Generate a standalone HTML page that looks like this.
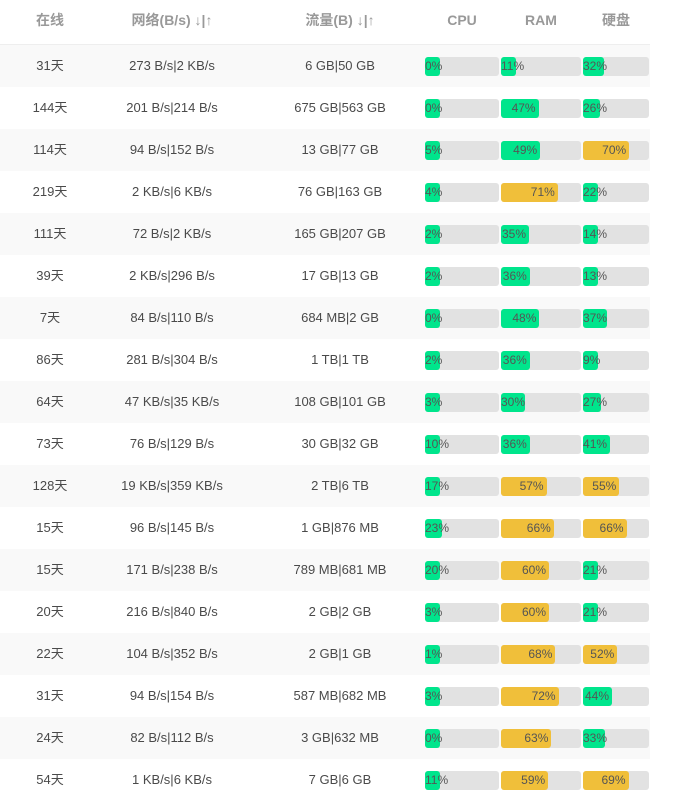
<!DOCTYPE html>
<html><head><meta charset="utf-8"><style>
*{margin:0;padding:0;box-sizing:border-box}
body{width:693px;height:792px;overflow:hidden;background:#fff;font-family:"Liberation Sans","Noto Sans CJK SC",sans-serif;font-size:13px;color:#4a4a4a}
.t{position:absolute;left:0;top:0;width:650px}
.h,.r{position:relative;height:42px}
.h{height:45px;border-bottom:1px solid #eee;color:#999;font-weight:bold;font-size:14px}
.c{position:absolute;top:0;line-height:42px;text-align:center;white-space:nowrap}
.h .c{line-height:40px}
.c1{left:0;width:100px}.c2{left:100px;width:144px}.c3{left:260px;width:160px}
.hc{left:425px;width:74px}.hr{left:501px;width:80px}.hd{left:583px;width:66px}
.b{position:absolute;top:12px;height:19px;background:#e2e2e2;border-radius:3px}
.f{height:19px;border-radius:3px;background:#00e58c;text-align:right;line-height:19px;white-space:nowrap;padding-right:3px;min-width:15px;font-size:12px;color:#555}
.y{background:#f0bf3a}
.bc{left:425px;width:74px}.br{left:501px;width:80px}.bd{left:583px;width:66px}
.rows .r:nth-child(odd){background:#f9f9f9}
</style></head><body><div class="t">
<div class="h"><div class="c c1">在线</div><div class="c c2">网络(B/s) ↓|↑</div><div class="c c3">流量(B) ↓|↑</div><div class="c hc">CPU</div><div class="c hr">RAM</div><div class="c hd">硬盘</div></div>
<div class="rows">
<div class="r"><div class="c c1">31天</div><div class="c c2">273 B/s|2 KB/s</div><div class="c c3">6 GB|50 GB</div><div class="b bc"><div class="f" style="width:0%">0%</div></div><div class="b br"><div class="f" style="width:11%">11%</div></div><div class="b bd"><div class="f" style="width:32%">32%</div></div></div>
<div class="r"><div class="c c1">144天</div><div class="c c2">201 B/s|214 B/s</div><div class="c c3">675 GB|563 GB</div><div class="b bc"><div class="f" style="width:0%">0%</div></div><div class="b br"><div class="f" style="width:47%">47%</div></div><div class="b bd"><div class="f" style="width:26%">26%</div></div></div>
<div class="r"><div class="c c1">114天</div><div class="c c2">94 B/s|152 B/s</div><div class="c c3">13 GB|77 GB</div><div class="b bc"><div class="f" style="width:5%">5%</div></div><div class="b br"><div class="f" style="width:49%">49%</div></div><div class="b bd"><div class="f y" style="width:70%">70%</div></div></div>
<div class="r"><div class="c c1">219天</div><div class="c c2">2 KB/s|6 KB/s</div><div class="c c3">76 GB|163 GB</div><div class="b bc"><div class="f" style="width:4%">4%</div></div><div class="b br"><div class="f y" style="width:71%">71%</div></div><div class="b bd"><div class="f" style="width:22%">22%</div></div></div>
<div class="r"><div class="c c1">111天</div><div class="c c2">72 B/s|2 KB/s</div><div class="c c3">165 GB|207 GB</div><div class="b bc"><div class="f" style="width:2%">2%</div></div><div class="b br"><div class="f" style="width:35%">35%</div></div><div class="b bd"><div class="f" style="width:14%">14%</div></div></div>
<div class="r"><div class="c c1">39天</div><div class="c c2">2 KB/s|296 B/s</div><div class="c c3">17 GB|13 GB</div><div class="b bc"><div class="f" style="width:2%">2%</div></div><div class="b br"><div class="f" style="width:36%">36%</div></div><div class="b bd"><div class="f" style="width:13%">13%</div></div></div>
<div class="r"><div class="c c1">7天</div><div class="c c2">84 B/s|110 B/s</div><div class="c c3">684 MB|2 GB</div><div class="b bc"><div class="f" style="width:0%">0%</div></div><div class="b br"><div class="f" style="width:48%">48%</div></div><div class="b bd"><div class="f" style="width:37%">37%</div></div></div>
<div class="r"><div class="c c1">86天</div><div class="c c2">281 B/s|304 B/s</div><div class="c c3">1 TB|1 TB</div><div class="b bc"><div class="f" style="width:2%">2%</div></div><div class="b br"><div class="f" style="width:36%">36%</div></div><div class="b bd"><div class="f" style="width:9%">9%</div></div></div>
<div class="r"><div class="c c1">64天</div><div class="c c2">47 KB/s|35 KB/s</div><div class="c c3">108 GB|101 GB</div><div class="b bc"><div class="f" style="width:3%">3%</div></div><div class="b br"><div class="f" style="width:30%">30%</div></div><div class="b bd"><div class="f" style="width:27%">27%</div></div></div>
<div class="r"><div class="c c1">73天</div><div class="c c2">76 B/s|129 B/s</div><div class="c c3">30 GB|32 GB</div><div class="b bc"><div class="f" style="width:10%">10%</div></div><div class="b br"><div class="f" style="width:36%">36%</div></div><div class="b bd"><div class="f" style="width:41%">41%</div></div></div>
<div class="r"><div class="c c1">128天</div><div class="c c2">19 KB/s|359 KB/s</div><div class="c c3">2 TB|6 TB</div><div class="b bc"><div class="f" style="width:17%">17%</div></div><div class="b br"><div class="f y" style="width:57%">57%</div></div><div class="b bd"><div class="f y" style="width:55%">55%</div></div></div>
<div class="r"><div class="c c1">15天</div><div class="c c2">96 B/s|145 B/s</div><div class="c c3">1 GB|876 MB</div><div class="b bc"><div class="f" style="width:23%">23%</div></div><div class="b br"><div class="f y" style="width:66%">66%</div></div><div class="b bd"><div class="f y" style="width:66%">66%</div></div></div>
<div class="r"><div class="c c1">15天</div><div class="c c2">171 B/s|238 B/s</div><div class="c c3">789 MB|681 MB</div><div class="b bc"><div class="f" style="width:20%">20%</div></div><div class="b br"><div class="f y" style="width:60%">60%</div></div><div class="b bd"><div class="f" style="width:21%">21%</div></div></div>
<div class="r"><div class="c c1">20天</div><div class="c c2">216 B/s|840 B/s</div><div class="c c3">2 GB|2 GB</div><div class="b bc"><div class="f" style="width:3%">3%</div></div><div class="b br"><div class="f y" style="width:60%">60%</div></div><div class="b bd"><div class="f" style="width:21%">21%</div></div></div>
<div class="r"><div class="c c1">22天</div><div class="c c2">104 B/s|352 B/s</div><div class="c c3">2 GB|1 GB</div><div class="b bc"><div class="f" style="width:1%">1%</div></div><div class="b br"><div class="f y" style="width:68%">68%</div></div><div class="b bd"><div class="f y" style="width:52%">52%</div></div></div>
<div class="r"><div class="c c1">31天</div><div class="c c2">94 B/s|154 B/s</div><div class="c c3">587 MB|682 MB</div><div class="b bc"><div class="f" style="width:3%">3%</div></div><div class="b br"><div class="f y" style="width:72%">72%</div></div><div class="b bd"><div class="f" style="width:44%">44%</div></div></div>
<div class="r"><div class="c c1">24天</div><div class="c c2">82 B/s|112 B/s</div><div class="c c3">3 GB|632 MB</div><div class="b bc"><div class="f" style="width:0%">0%</div></div><div class="b br"><div class="f y" style="width:63%">63%</div></div><div class="b bd"><div class="f" style="width:33%">33%</div></div></div>
<div class="r"><div class="c c1">54天</div><div class="c c2">1 KB/s|6 KB/s</div><div class="c c3">7 GB|6 GB</div><div class="b bc"><div class="f" style="width:11%">11%</div></div><div class="b br"><div class="f y" style="width:59%">59%</div></div><div class="b bd"><div class="f y" style="width:69%">69%</div></div></div>
</div></div>
</body></html>
